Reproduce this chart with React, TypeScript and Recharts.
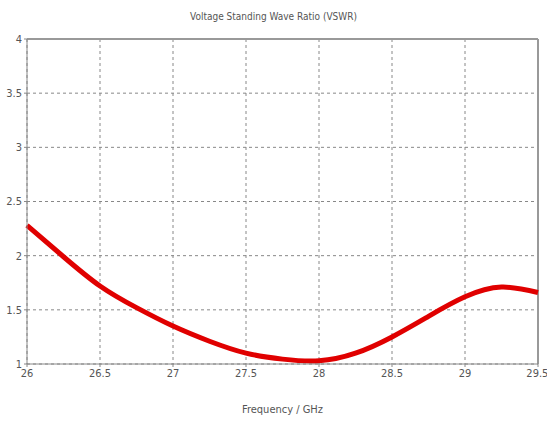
import React from 'react';
import { LineChart, Line, XAxis, YAxis, CartesianGrid, ReferenceLine, Label } from 'recharts';

const frequencies = [26, 26.25, 26.5, 26.75, 27, 27.25, 27.5, 27.75, 28, 28.25, 28.5, 28.75, 29, 29.25, 29.5];
const vswr = [2.28, 1.99, 1.72, 1.52, 1.35, 1.21, 1.1, 1.045, 1.03, 1.1, 1.25, 1.44, 1.62, 1.71, 1.66];
const xTicks = [26, 26.5, 27, 27.5, 28, 28.5, 29, 29.5];
const yTicks = [1, 1.5, 2, 2.5, 3, 3.5, 4];
const title = 'Voltage Standing Wave Ratio (VSWR)';
const xLabel = 'Frequency / GHz';

const data = frequencies.map((f, i) => ({ f, v: vswr[i] }));

const font = '"Liberation Sans Narrow", "DejaVu Sans Condensed", sans-serif';

export default function App() {
  return (
    <div style={{ position: 'absolute', left: 0, top: 0, width: 547, height: 427, background: '#fff' }}>
      <div style={{ position: 'absolute', top: 11, left: 0, width: 547, textAlign: 'center', fontFamily: font, fontSize: 10, color: '#555' }}>
        {title}
      </div>
      <LineChart width={547} height={427} data={data} margin={{ top: 39, right: 9, bottom: 38, left: 7 }}>
        <CartesianGrid stroke="#888" strokeDasharray="3 3" />
        <XAxis
          dataKey="f"
          type="number"
          domain={[26, 29.5]}
          ticks={xTicks}
          stroke="#888"
          tickLine={{ stroke: '#888' }}
          tickSize={3}
          height={25}
          tick={{ fontFamily: font, fontSize: 11, fill: '#555' }}
        >
          <Label value={xLabel} position="insideBottom" offset={-24} style={{ fontFamily: font, fontSize: 11, fill: '#555' }} />
        </XAxis>
        <YAxis
          type="number"
          domain={[1, 4]}
          ticks={yTicks}
          width={20}
          stroke="#888"
          tickSize={3}
          tick={{ fontFamily: font, fontSize: 11, fill: '#555' }}
        />
        <ReferenceLine y={4} stroke="#999" strokeWidth={2} />
        <ReferenceLine x={29.5} stroke="#999" strokeWidth={2} />
        <Line type="natural" dataKey="v" stroke="#e00000" strokeWidth={5} dot={false} isAnimationActive={false} />
      </LineChart>
    </div>
  );
}
